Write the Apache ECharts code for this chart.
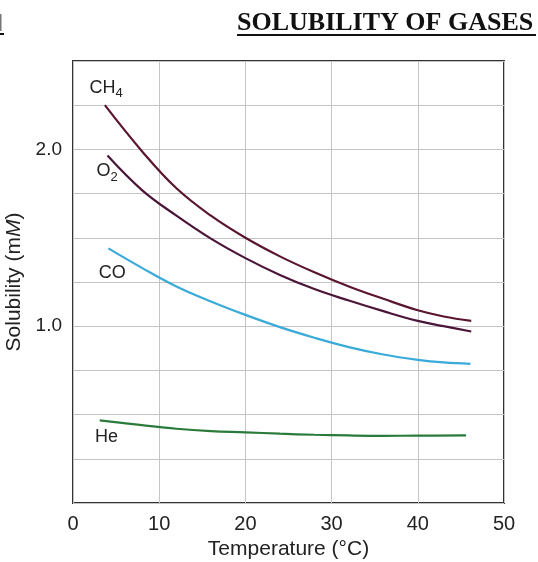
<!DOCTYPE html>
<html><head><meta charset="utf-8">
<script src="https://cdn.jsdelivr.net/npm/echarts@6/dist/echarts.min.js"></script>
<style>html,body{margin:0;padding:0;background:#fff}#c{width:538px;height:562px}</style>
</head><body><div id="c"></div>
<script>
const xTicks = [0, 10, 20, 30, 40, 50];
const yLabelTicks = [1, 2];
const ch4Temp = [3.7, 8, 12, 16, 20, 24, 28, 32, 36, 40, 43, 46.2];
const ch4Vals = [2.25, 1.99, 1.78, 1.625, 1.50, 1.395, 1.305, 1.225, 1.155, 1.09, 1.055, 1.03];
const o2Temp = [4.0, 8, 12, 16, 20, 24, 28, 32, 36, 40, 43, 46.2];
const o2Vals = [1.965, 1.77, 1.625, 1.495, 1.385, 1.29, 1.21, 1.145, 1.085, 1.03, 1.0, 0.97];
const coTemp = [4.1, 8, 12, 16, 20, 24, 28, 32, 36, 40, 43, 46.1];
const coVals = [1.44, 1.33, 1.225, 1.14, 1.064, 0.995, 0.935, 0.882, 0.84, 0.81, 0.795, 0.787];
const heTemp = [3.1, 8, 12, 16, 20, 24, 28, 32, 36, 40, 45.6];
const heVals = [0.467, 0.44, 0.42, 0.407, 0.40, 0.392, 0.386, 0.382, 0.38, 0.381, 0.382];
const labelNames = ['CH', 'O', 'CO', 'He'];
const labelSubs = ['4', '2', '', ''];
const labelPos = [[3.85, 2.345], [3.95, 1.875], [4.55, 1.30], [3.9, 0.375]];
const colors = ['#5a1530', '#4a1538', '#3aaad8', '#2a7a3c'];

const pair = (xs, ys) => xs.map((x, i) => [x, ys[i]]);
const seriesData = [pair(ch4Temp, ch4Vals), pair(o2Temp, o2Vals), pair(coTemp, coVals), pair(heTemp, heVals)];
const FONT = '"Liberation Sans", Arial, sans-serif';

const chart = echarts.init(document.getElementById('c'), null, {renderer: 'canvas'});
chart.setOption({
  animation: false,
  backgroundColor: '#fff',
  grid: {left: 73, right: 34, top: 61, bottom: 59, containLabel: false, outerBoundsMode: 'none', show: true, borderColor: '#333', borderWidth: 2, backgroundColor: 'transparent'},
  xAxis: {
    type: 'value', min: 0, max: 50, interval: 10,
    name: 'Temperature (°C)', nameLocation: 'middle', nameGap: 34,
    nameTextStyle: {fontFamily: FONT, fontSize: 21, color: '#222'},
    axisLine: {show: false}, axisTick: {show: false},
    axisLabel: {fontFamily: FONT, fontSize: 20, color: '#222', margin: 11,
      formatter: v => xTicks.includes(v) ? String(v) : ''},
    splitLine: {lineStyle: {color: '#c4c4c4', width: 1}}
  },
  yAxis: {
    type: 'value', min: 0, max: 2.5, interval: 0.25,
    name: '{n|Solubility (m}{i|M}{n|)}', nameLocation: 'middle', nameGap: 36,
    nameTextStyle: {rich: {n: {fontFamily: FONT, fontSize: 21, color: '#222'}, i: {fontFamily: FONT, fontSize: 21, fontStyle: 'italic', color: '#222'}}},
    axisLine: {show: false}, axisTick: {show: false},
    axisLabel: {fontFamily: FONT, fontSize: 19, color: '#222', margin: 11,
      formatter: v => yLabelTicks.some(t => Math.abs(t - v) < 1e-9) ? v.toFixed(1) : ''},
    splitLine: {lineStyle: {color: '#c4c4c4', width: 1}}
  },
  series: seriesData.map((d, i) => ({
    type: 'line', data: d, smooth: 0.4, showSymbol: false, silent: true,
    lineStyle: {color: colors[i], width: 2.2},
    itemStyle: {color: colors[i]},
    markPoint: {
      symbol: 'circle', symbolSize: 0, silent: true,
      data: [{coord: labelPos[i], value: 0}],
      label: {
        show: true, position: 'inside',
        formatter: labelSubs[i] ? '{a|' + labelNames[i] + '}{s|' + labelSubs[i] + '}' : '{a|' + labelNames[i] + '}',
        rich: {
          a: {fontFamily: FONT, fontSize: 18, color: '#222', lineHeight: 24, verticalAlign: 'middle'},
          s: {fontFamily: FONT, fontSize: 13, color: '#222', lineHeight: 24, verticalAlign: 'bottom', padding: [9, 0, 0, 0]}
        }
      }
    }
  })),
  graphic: [
    {type: 'text', left: 237, top: 10, style: {text: 'SOLUBILITY OF GASES', font: 'bold 26px "Liberation Serif", "DejaVu Serif", serif', fill: '#111'}},
    {type: 'rect', shape: {x: 237, y: 34, width: 299, height: 2}, style: {fill: '#111'}},
    {type: 'rect', shape: {x: 0, y: 33, width: 4, height: 2}, style: {fill: '#111'}},
    {type: 'rect', shape: {x: 0, y: 14, width: 1.5, height: 17}, style: {fill: '#777'}}
  ]
});
</script></body></html>
